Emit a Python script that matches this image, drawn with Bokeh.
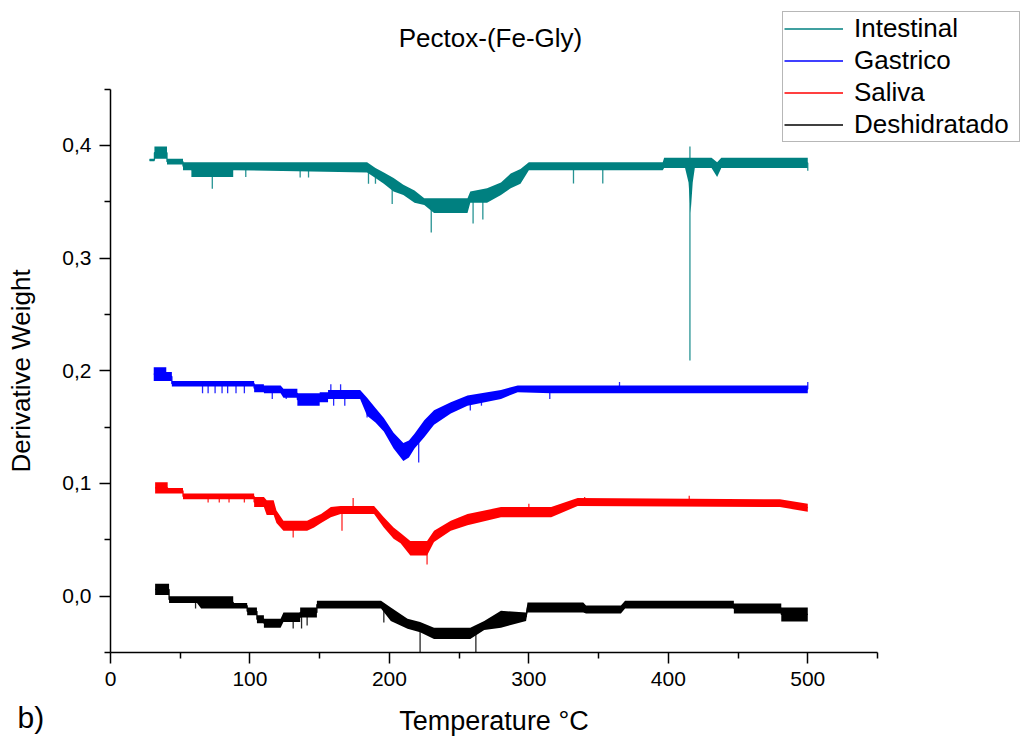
import numpy as np
from bokeh.plotting import figure
from bokeh.models import (Range1d, FixedTicker, CustomJSTickFormatter, Legend,
                          LegendItem, Label)
from bokeh.embed import file_html
from bokeh.resources import INLINE

FONT = "Liberation Sans"

TITLE = "Pectox-(Fe-Gly)"
X_LABEL = "Temperature °C"
Y_LABEL = "Derivative Weight"
PANEL_TAG = "b)"

X_TICKS = [0, 100, 200, 300, 400, 500]
X_MINOR = [50, 150, 250, 350, 450, 550]
Y_TICKS = [0.0, 0.1, 0.2, 0.3, 0.4]
Y_MINOR = [-0.05, 0.05, 0.15, 0.25, 0.35, 0.45]
X_AXIS_SPAN = (0, 550)
Y_AXIS_SPAN = (-0.05, 0.45)

SERIES_NAMES = ["Intestinal", "Gastrico", "Saliva", "Deshidratado"]
SERIES_COLORS = ["#008080", "#0000FF", "#FF0000", "#000000"]

# Intestinal (teal): band lower / upper edge
INT_T = [28, 31.5, 31.5, 40.5, 40.5, 52, 52, 58, 58, 88, 88, 184, 190, 196, 203, 210, 218, 225,
         232, 256, 258, 270, 280, 287, 294, 300, 396, 397, 412, 414.5, 416, 417.5, 419, 431,
         435, 438, 500]
INT_LO = [.386, .386, .388, .388, .383, .383, .378, .378, .372, .372, .378, .376, .371, .366,
          .359, .356, .349, .347, .340, .340, .349, .349, .356, .362, .366, .378, .378, .380,
          .380, .367, .340, .367, .380, .380, .372, .380, .380]
INT_HI = [.388, .388, .399, .399, .388, .388, .385, .385, .385, .385, .385, .385, .380, .376,
          .371, .365, .360, .353, .353, .353, .359, .362, .367, .375, .379, .385, .385, .389,
          .389, .389, .389, .389, .389, .389, .385, .389, .389]
INT_SPIKE_T = [62, 73, 97, 136, 142, 185, 190, 202, 230, 260, 267, 332, 353, 415.5, 415.5, 500]
INT_SPIKE_Y = [.372, .3616, .372, .3715, .3715, .366, .366, .348, .3227, .3306, .3342, .3662,
               .3662, .209, .399, .3775]

# Gastrico (blue)
GAS_T = [31, 40, 40, 44, 44, 103, 103, 110, 110, 122, 124, 134, 134, 150, 150, 156, 156, 179,
         184, 190, 196, 203, 210, 214, 218, 225, 232, 244, 256, 280, 292, 316, 500]
GAS_LO = [.191, .191, .191, .191, .186, .186, .181, .181, .180, .180, .176, .176, .169, .169,
          .172, .172, .175, .175, .160, .154, .146, .131, .120, .123, .131, .141, .152, .162,
          .169, .175, .181, .180, .180]
GAS_HI = [.203, .203, .199, .199, .191, .191, .188, .188, .187, .187, .184, .184, .180, .180,
          .181, .181, .183, .183, .176, .167, .158, .145, .136, .138, .144, .156, .165, .172,
          .178, .183, .187, .187, .187]
GAS_SPIKE_T = [66, 70, 75, 80, 84, 90, 96, 116, 126, 136, 160, 168, 184, 221, 258, 266, 315,
               158, 165, 365, 500]
GAS_SPIKE_Y = [.180, .180, .180, .180, .180, .180, .180, .175, .175, .170, .169, .169, .1585,
               .1186, .1648, .169, .175, .188, .188, .190, .190]

# Saliva (red)
SAL_T = [32, 41, 41, 52, 52, 103, 103, 110, 112, 117, 119, 124, 141, 146, 151, 158, 165, 189,
         196, 203, 208, 215, 227, 232, 244, 256, 280, 316, 335, 480, 500]
SAL_LO = [.091, .091, .091, .091, .086, .086, .079, .079, .072, .072, .065, .058, .058, .061,
          .065, .070, .073, .073, .061, .051, .047, .036, .036, .048, .058, .063, .070, .070,
          .080, .079, .075]
SAL_HI = [.101, .101, .096, .096, .091, .091, .088, .088, .085, .085, .076, .067, .067, .070,
          .073, .079, .080, .080, .070, .061, .056, .049, .049, .058, .067, .073, .079, .079,
          .087, .086, .082]
SAL_SPIKE_T = [70, 78, 85, 96, 131, 166, 174, 227, 300, 340, 415]
SAL_SPIKE_Y = [.083, .083, .083, .083, .052, .058, .087, .028, .082, .088, .089]

# Deshidratado (black)
DES_T = [32, 42, 42, 62, 65, 88, 88, 98, 98, 105, 105, 110, 110, 122, 124, 136, 136, 148, 148,
         194, 201, 213, 222, 232, 258, 268, 280, 298, 299, 339, 341, 366, 369, 447, 447, 481,
         481, 500]
DES_LO = [.001, .001, -.006, -.006, -.011, -.011, -.011, -.011, -.017, -.017, -.024, -.024,
          -.028, -.028, -.023, -.023, -.019, -.019, -.011, -.011, -.022, -.029, -.032, -.038,
          -.038, -.030, -.028, -.022, -.0145, -.0145, -.0154, -.0154, -.011, -.011, -.0154,
          -.0154, -.0225, -.0225]
DES_HI = [.011, .011, .000, .000, .000, .000, -.006, -.006, -.010, -.010, -.017, -.017, -.020,
          -.020, -.0145, -.0145, -.010, -.010, -.004, -.004, -.010, -.020, -.023, -.028, -.028,
          -.022, -.013, -.0145, -.0056, -.0056, -.0083, -.0083, -.004, -.004, -.0065, -.0065,
          -.010, -.010]
DES_SPIKE_T = [61, 131, 137, 141, 196, 222, 262]
DES_SPIKE_Y = [-.011, -.0287, -.0287, -.026, -.0233, -.050, -.050]

SERIES = [
    (INT_T, INT_LO, INT_HI, INT_SPIKE_T, INT_SPIKE_Y),
    (GAS_T, GAS_LO, GAS_HI, GAS_SPIKE_T, GAS_SPIKE_Y),
    (SAL_T, SAL_LO, SAL_HI, SAL_SPIKE_T, SAL_SPIKE_Y),
    (DES_T, DES_LO, DES_HI, DES_SPIKE_T, DES_SPIKE_Y),
]

# ---- layout: the frame spans the whole canvas; axes are pinned inside it ----
W, H = 1020, 738
AX_LEFT_PX, AX_RIGHT_PX = 110, 877      # pixel positions of x = 0 and x = 550
AX_TOP_PX, AX_BOTTOM_PX = 88.5, 652     # pixel positions of y = 0.45 and y = -0.05
kx = (AX_RIGHT_PX - AX_LEFT_PX) / (X_AXIS_SPAN[1] - X_AXIS_SPAN[0])
ky = (AX_BOTTOM_PX - AX_TOP_PX) / (Y_AXIS_SPAN[1] - Y_AXIS_SPAN[0])
x_start = X_AXIS_SPAN[0] - AX_LEFT_PX / kx
x_end = x_start + W / kx
y_end = Y_AXIS_SPAN[1] + AX_TOP_PX / ky
y_start = y_end - H / ky

p = figure(width=W, height=H, output_backend="svg", toolbar_location=None,
           x_range=Range1d(x_start, x_end), y_range=Range1d(y_start, y_end),
           min_border=0, min_border_left=0, min_border_right=0,
           min_border_top=0, min_border_bottom=0)
p.outline_line_color = None
p.grid.visible = False
p.background_fill_color = "white"
p.border_fill_color = "white"

p.xaxis.fixed_location = Y_AXIS_SPAN[0]
p.yaxis.fixed_location = X_AXIS_SPAN[0]
p.xaxis.bounds = X_AXIS_SPAN
p.yaxis.bounds = Y_AXIS_SPAN

for ax in (p.xaxis[0], p.yaxis[0]):
    ax.axis_line_width = 1.5
    ax.major_tick_line_width = 1.5
    ax.minor_tick_line_width = 1.5
    ax.major_tick_out = 11
    ax.major_tick_in = 0
    ax.minor_tick_out = 6
    ax.minor_tick_in = 0
    ax.major_label_text_font = FONT
    ax.major_label_text_font_size = "21px"
    ax.major_label_text_color = "black"
    ax.axis_label_text_font = FONT
    ax.axis_label_text_font_style = "normal"
    ax.axis_label_text_color = "black"

p.xaxis.ticker = FixedTicker(ticks=X_TICKS, minor_ticks=X_MINOR)
p.yaxis.ticker = FixedTicker(ticks=Y_TICKS, minor_ticks=Y_MINOR)
p.xaxis.formatter = CustomJSTickFormatter(code="return tick.toFixed(0)")
p.yaxis.formatter = CustomJSTickFormatter(code="return tick.toFixed(1).replace('.', ',')")
p.xaxis.axis_label = X_LABEL
p.yaxis.axis_label = Y_LABEL
p.xaxis.axis_label_text_font_size = "27px"
p.yaxis.axis_label_text_font_size = "26px"
p.xaxis.major_label_standoff = 8
p.yaxis.major_label_standoff = 8
p.xaxis.axis_label_standoff = 17
p.yaxis.axis_label_standoff = 23

legend_items = []
for (t, lo, hi, st, sy), name, color in zip(SERIES, SERIES_NAMES, SERIES_COLORS):
    t = np.asarray(t, float)
    lo = np.asarray(lo, float)
    hi = np.asarray(hi, float)
    mid = (lo + hi) / 2.0
    p.varea(x=t, y1=lo, y2=hi, fill_color=color, fill_alpha=1.0)
    base = np.interp(np.asarray(st, float), t, mid)
    p.segment(x0=st, y0=base, x1=st, y1=sy, line_color=color, line_width=1.3, line_alpha=0.85)
    r = p.line(t, mid, line_color=color, line_width=1.3)
    legend_items.append(LegendItem(label=name, renderers=[r]))

# legend box: left edge 782 px, bottom edge 142 px from the top
legend = Legend(items=legend_items, location=(782, H - 142))
legend.label_text_font = FONT
legend.label_text_font_size = "26px"
legend.label_text_color = "black"
legend.glyph_width = 59
legend.glyph_height = 31
legend.label_height = 31
legend.label_width = 164
legend.label_standoff = 11
legend.padding = 1
legend.spacing = 1
legend.margin = 0
legend.border_line_color = "#707070"
legend.border_line_width = 1.5
legend.background_fill_color = "white"
legend.background_fill_alpha = 1.0
p.add_layout(legend, "center")

p.add_layout(Label(x=490, y=H - 37.5, x_units="screen", y_units="screen", text=TITLE,
                   text_font=FONT, text_font_size="26px", text_align="center",
                   text_baseline="alphabetic", text_color="black"))
p.add_layout(Label(x=17, y=H - 717, x_units="screen", y_units="screen", text=PANEL_TAG,
                   text_font=FONT, text_font_size="30px", text_align="left",
                   text_baseline="alphabetic", text_color="black"))

open("out.html", "w").write(file_html(p, INLINE))
